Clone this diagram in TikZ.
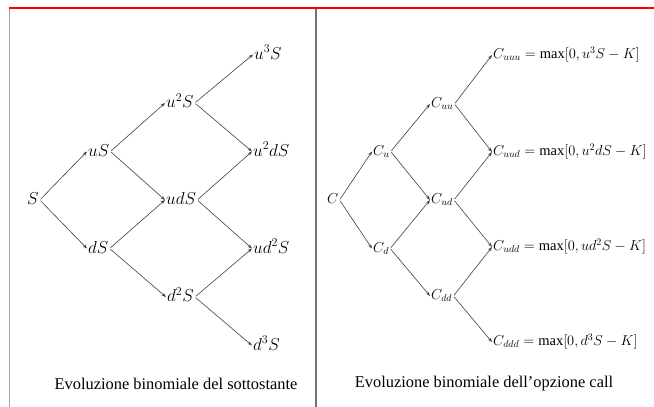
\documentclass[tikz,border=0pt]{standalone}
\usepackage{fontspec}
\setmainfont{Liberation Serif}
\usepackage{tikz}
\usetikzlibrary{arrows.meta, positioning}
\tikzstyle{val} = [
    anchor=west,
    inner sep=1pt,
    text height=13pt,
    text depth=4pt,
    font=\fontsize{18}{18}\selectfont
]
\tikzstyle{opt} = [
    anchor=west,
    inner sep=1pt,
    text height=11pt,
    text depth=4pt,
    font=\fontsize{14.5}{14.5}\selectfont
]
\tikzstyle{caption} = [font=\fontsize{16.4}{17}\selectfont]
\tikzstyle{move} = [draw=black!75, line width=0.6pt, shorten <=1pt, -{Stealth[length=4.5pt, width=3.2pt]}]

\begin{document}
\begin{tikzpicture}[x=1pt, y=1pt]
    \useasboundingbox (0,0) rectangle (654,-407);
    % Rahmen
    \draw [red, line width=2.3pt] (9,-7.8) -- (654,-7.8);
    \draw [black!35, line width=1pt] (9,-9) -- (9,-407);
    \draw [black!55, line width=2pt] (315.7,-9) -- (315.7,-407);
    % Sottostante
    \node (s) [val] at (26,-200) {$S$};
    \node (su) [val] at (87,-151.5) {$uS$};
    \node (sd) [val] at (87,-248.5) {$dS$};
    \node (suu) [val] at (165,-103) {$u^2S$};
    \node (sud) [val] at (165,-200) {$udS$};
    \node (sdd) [val] at (166,-297) {$d^2S$};
    \node (suuu) [val] at (253,-54.5) {$u^3S$};
    \node (suud) [val] at (252,-151.5) {$u^2dS$};
    \node (sudd) [val] at (252,-248.5) {$ud^2S$};
    \node (sddd) [val] at (252,-345.5) {$d^3S$};
    % Opzione
    \node (c) [opt] at (326,-200) {$C$};
    \node (cu) [opt] at (372,-151.5) {$C_u$};
    \node (cd) [opt] at (372,-248.5) {$C_d$};
    \node (cuu) [opt] at (430,-104) {$C_{uu}$};
    \node (cud) [opt] at (430,-200) {$C_{ud}$};
    \node (cdd) [opt] at (430,-296) {$C_{dd}$};
    \node (cuuu) [opt] at (492,-55) {$C_{uuu} = \max[0, u^3S - K]$};
    \node (cuud) [opt] at (492,-152) {$C_{uud} = \max[0, u^2dS - K]$};
    \node (cudd) [opt] at (492,-247) {$C_{udd} = \max[0, ud^2S - K]$};
    \node (cddd) [opt] at (492,-342) {$C_{ddd} = \max[0, d^3S - K]$};
    % Pfeile
    \draw [move] (s.east) -- (su.west);
    \draw [move] (s.east) -- (sd.west);
    \draw [move] (su.east) -- (suu.west);
    \draw [move] (su.east) -- (sud.west);
    \draw [move] (sd.east) -- (sud.west);
    \draw [move] (sd.east) -- (sdd.west);
    \draw [move] (suu.east) -- (suuu.west);
    \draw [move] (suu.east) -- (suud.west);
    \draw [move] (sud.east) -- (suud.west);
    \draw [move] (sud.east) -- (sudd.west);
    \draw [move] (sdd.east) -- (sudd.west);
    \draw [move] (sdd.east) -- (sddd.west);
    \draw [move] (c.east) -- (cu.west);
    \draw [move] (c.east) -- (cd.west);
    \draw [move] (cu.east) -- (cuu.west);
    \draw [move] (cu.east) -- (cud.west);
    \draw [move] (cd.east) -- (cud.west);
    \draw [move] (cd.east) -- (cdd.west);
    \draw [move] (cuu.east) -- (cuuu.west);
    \draw [move] (cuu.east) -- (cuud.west);
    \draw [move] (cud.east) -- (cuud.west);
    \draw [move] (cud.east) -- (cudd.west);
    \draw [move] (cdd.east) -- (cudd.west);
    \draw [move] (cdd.east) -- (cddd.west);
    % Didascalie
    \node (capl) [caption] at (176,-384) {Evoluzione binomiale del sottostante};
    \node (capr) [caption] at (484,-384) {Evoluzione binomiale dell’opzione call};
\end{tikzpicture}
\end{document}
